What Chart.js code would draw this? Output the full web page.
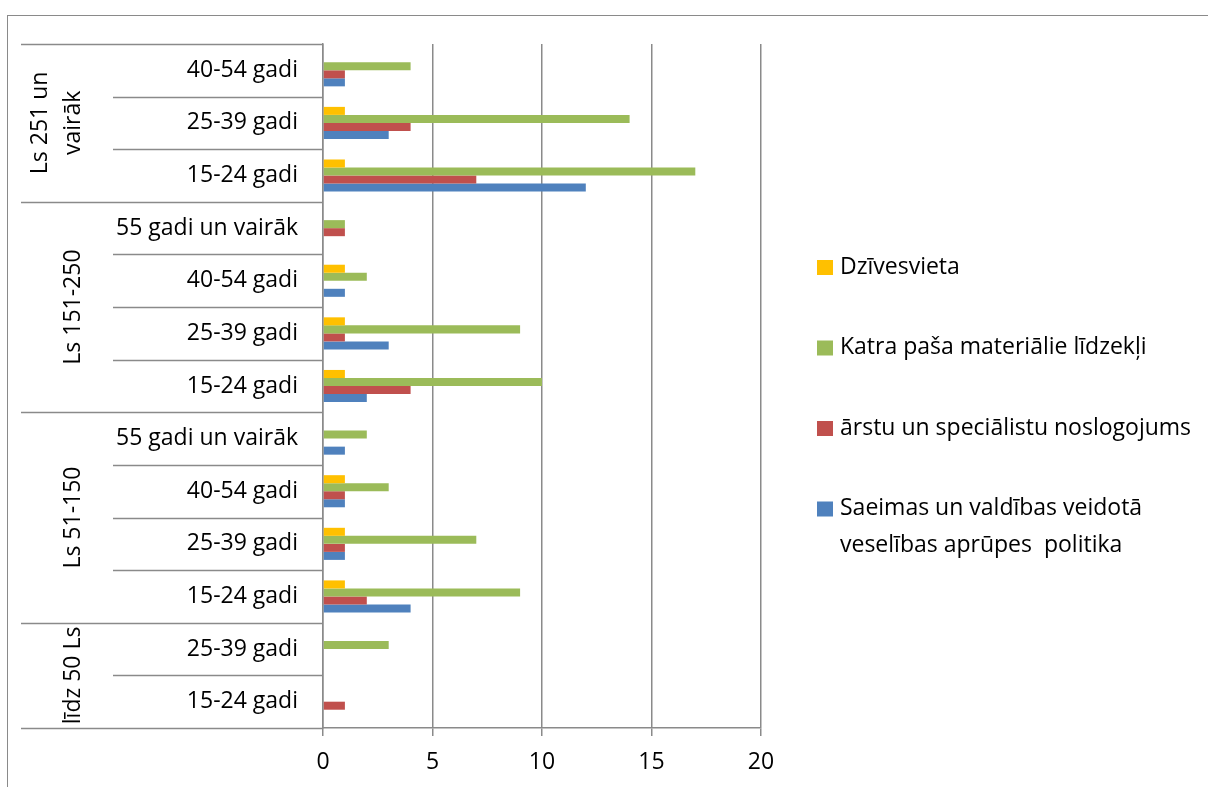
<!DOCTYPE html>
<html>
<head>
<meta charset="utf-8">
<script src="https://cdn.jsdelivr.net/npm/chart.js@4"></script>
<style>
  body { margin: 0; background: #fff; }
</style>
</head>
<body>
<canvas id="graf_vecums" width="1208" height="787"></canvas>
<script>
// kategorijas no augšas uz leju
const vecums = ['40-54 gadi', '25-39 gadi', '15-24 gadi',
    '55 gadi un vairāk', '40-54 gadi', '25-39 gadi', '15-24 gadi',
    '55 gadi un vairāk', '40-54 gadi', '25-39 gadi', '15-24 gadi',
    '25-39 gadi', '15-24 gadi'];
const grupuNosaukumi = [['Ls 251 un', 'vairāk'], ['Ls 151-250'], ['Ls 51-150'], ['līdz 50 Ls']];
const grupuIzmers = [3, 4, 4, 2];

const serijas = ['Dzīvesvieta', 'Katra paša materiālie līdzekļi',
    'ārstu un speciālistu noslogojums',
    'Saeimas un valdības veidotā\nveselības aprūpes  politika'];
const dzivesvieta = [0, 1, 1, 0, 1, 1, 1, 0, 1, 1, 1, 0, 0];
const lidzekli = [4, 14, 17, 1, 2, 9, 10, 2, 3, 7, 9, 3, 0];
const arsti = [1, 4, 7, 1, 0, 1, 4, 0, 1, 1, 2, 0, 1];
const politika = [1, 3, 12, 0, 1, 3, 2, 1, 1, 1, 4, 0, 0];
const xTicks = [0, 5, 10, 15, 20];

const krasas = ['#FFC000', '#9BBB59', '#C0504D', '#4F81BD'];
const FONTS = '"Open Sans", sans-serif';
const FONT_IZM = 23;
const pelēks = '#8a8a8a';
const LINIJA = 1.5;

/**
 * divlīmeņu kategoriju ass + leģenda
 */
const kategorijuAss = {
    id: 'kategorijuAss',
    beforeDraw(chart) {
        const c = chart.ctx;
        c.save();
        c.strokeStyle = pelēks;
        c.lineWidth = 1;
        c.strokeRect(7.5, 15.5, 1400, 1000);
        c.restore();
    },
    afterDraw(chart) {
        const c = chart.ctx;
        const y = chart.scales.y;
        const a = chart.chartArea;
        const solis = (y.bottom - y.top) / vecums.length;
        const iekL = a.left - 210;
        c.save();
        c.strokeStyle = pelēks;
        c.lineWidth = LINIJA;
        const robezas = [0];
        grupuIzmers.reduce((s, n) => { robezas.push(s + n); return s + n; }, 0);
        for (let i = 0; i <= vecums.length; i++) {
            const py = Math.round(y.top + i * solis) + 0.5;
            c.beginPath();
            c.moveTo(robezas.includes(i) ? y.left : iekL, py);
            c.lineTo(a.left, py);
            c.stroke();
        }
        c.fillStyle = '#000';
        c.font = FONT_IZM + 'px ' + FONTS;
        c.textBaseline = 'middle';
        c.textAlign = 'right';
        vecums.forEach((t, i) => c.fillText(t, a.left - 25, y.getPixelForValue(i)));

        let sakums = 0;
        grupuNosaukumi.forEach((rindas, g) => {
            const yc = y.top + (sakums + grupuIzmers[g] / 2) * solis;
            sakums += grupuIzmers[g];
            c.save();
            c.translate(73, yc);
            c.rotate(-Math.PI / 2);
            c.textAlign = 'center';
            rindas.forEach((r, k) => c.fillText(r, 0, (k - rindas.length + 1) * 33));
            c.restore();
        });

        // leģenda
        c.textAlign = 'left';
        let ly = 267;
        chart.data.datasets.forEach(ds => {
            c.fillStyle = ds.backgroundColor;
            c.fillRect(817, ly - 7, 16, 15);
            c.fillStyle = '#000';
            ds.label.split('\n').forEach((r, k) => c.fillText(r, 840, ly + k * 37));
            ly += 80.5;
        });
        c.restore();
    }
};

const ctx = document.getElementById('graf_vecums').getContext('2d');
const chart_vecums = new Chart(ctx, {
    type: 'bar',
    data: {
        labels: vecums,
        datasets: [dzivesvieta, lidzekli, arsti, politika].map((d, i) => ({
            label: serijas[i],
            data: d,
            backgroundColor: krasas[i],
            borderWidth: 0,
            barPercentage: 1,
            categoryPercentage: 0.61
        }))
    },
    options: {
        indexAxis: 'y',
        responsive: false,
        animation: false,
        layout: { padding: { left: 21, top: 44, right: 447, bottom: 0 } },
        plugins: {
            legend: { display: false },
            tooltip: { enabled: false }
        },
        scales: {
            x: {
                min: 0,
                max: 20,
                afterBuildTicks: s => { s.ticks = xTicks.map(v => ({ value: v })); },
                ticks: { color: '#000', padding: 13, font: { family: FONTS, size: FONT_IZM } },
                grid: { color: pelēks, lineWidth: LINIJA, tickLength: 8, drawTicks: true },
                border: { color: pelēks, width: LINIJA },
                afterFit: s => { s.height = 59; }
            },
            y: {
                ticks: { display: false },
                grid: { display: false },
                border: { color: pelēks, width: LINIJA },
                afterFit: s => { s.width = 302; }
            }
        }
    },
    plugins: [kategorijuAss]
});
</script>
</body>
</html>
